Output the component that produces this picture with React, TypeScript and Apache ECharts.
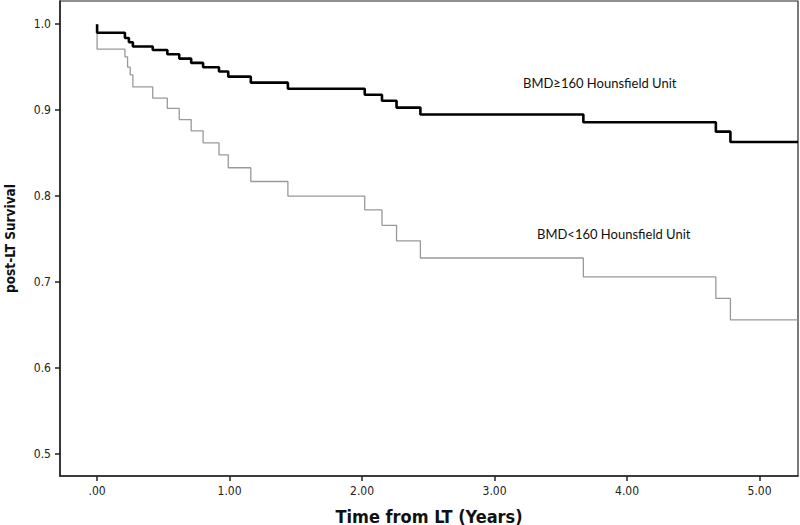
import React, { useEffect, useRef } from "react";
import * as echarts from "echarts";

// Kaplan–Meier step data
const highTimes = [0, 0, 0.21, 0.24, 0.27, 0.42, 0.53, 0.62, 0.71, 0.8, 0.92, 0.99, 1.16, 1.44, 2.02, 2.15, 2.26, 2.44, 3.67, 4.67, 4.78, 5.29];
const highSurvival = [1.0, 0.99, 0.984, 0.979, 0.974, 0.97, 0.965, 0.96, 0.955, 0.95, 0.945, 0.939, 0.932, 0.925, 0.918, 0.911, 0.903, 0.895, 0.886, 0.875, 0.863, 0.863];

const lowTimes = [0, 0, 0.21, 0.23, 0.25, 0.27, 0.42, 0.53, 0.62, 0.71, 0.8, 0.92, 0.99, 1.16, 1.44, 2.02, 2.15, 2.26, 2.44, 3.67, 4.67, 4.78, 5.29];
const lowSurvival = [1.0, 0.971, 0.962, 0.95, 0.941, 0.927, 0.914, 0.902, 0.889, 0.876, 0.862, 0.848, 0.833, 0.817, 0.8, 0.784, 0.766, 0.748, 0.728, 0.706, 0.681, 0.656, 0.656];

const xTicks = [0, 1, 2, 3, 4, 5];
const yTicks = [0.5, 0.6, 0.7, 0.8, 0.9, 1.0];

const highLabel = "BMD≥160 Hounsfield Unit";
const lowLabel = "BMD<160 Hounsfield Unit";
const xTitle = "Time from LT (Years)";
const yTitle = "post-LT Survival";

const narrow = "'Liberation Sans Narrow', 'Arial Narrow', 'DejaVu Sans Condensed', sans-serif";

export default function App() {
  const ref = useRef<HTMLDivElement>(null);
  useEffect(() => {
    if (!ref.current) return;
    const chart = echarts.init(ref.current, undefined, { renderer: "svg" });
    const pair = (ts: number[], vs: number[]) => ts.map((t, i) => [t, vs[i]]);
    chart.setOption({
      animation: false,
      backgroundColor: "#fff",
      grid: {
        left: 60,
        right: 2,
        top: 1,
        bottom: 49,
        show: true,
        borderColor: "#222",
        borderWidth: 1.2,
        containLabel: false,
        outerBoundsMode: "none",
      },
      xAxis: {
        type: "value",
        min: -0.28,
        max: 5.29,
        name: xTitle,
        nameLocation: "middle",
        nameGap: 31,
        nameTextStyle: { fontFamily: narrow, fontWeight: "bold", fontSize: 18, color: "#111" },
        axisLine: { show: true, onZero: false, lineStyle: { color: "#222", width: 1.5 } },
        axisTick: { show: true, length: 5, customValues: xTicks, lineStyle: { color: "#222", width: 1.5 } },
        axisLabel: {
          customValues: xTicks,
          margin: 9,
          fontFamily: narrow,
          fontSize: 12,
          color: "#222",
          formatter: (v: number) => (v === 0 ? ".00" : v.toFixed(2)),
        },
        splitLine: { show: false },
      },
      yAxis: {
        type: "value",
        min: 0.4744,
        max: 1.027,
        name: yTitle,
        nameLocation: "middle",
        nameGap: 43,
        nameTextStyle: { fontFamily: narrow, fontWeight: "bold", fontSize: 13.5, color: "#111" },
        axisLine: { show: true, onZero: false, lineStyle: { color: "#222", width: 1.5 } },
        axisTick: { show: true, length: 5, customValues: yTicks, lineStyle: { color: "#222", width: 1.5 } },
        axisLabel: {
          customValues: yTicks,
          margin: 9,
          fontFamily: narrow,
          fontSize: 12,
          color: "#222",
          formatter: (v: number) => v.toFixed(1),
        },
        splitLine: { show: false },
      },
      series: [
        {
          name: lowLabel,
          type: "line",
          step: "end",
          data: pair(lowTimes, lowSurvival),
          showSymbol: false,
          symbol: "none",
          lineStyle: { color: "#999", width: 1.3 },
          z: 2,
        },
        {
          name: highLabel,
          type: "line",
          step: "end",
          data: pair(highTimes, highSurvival),
          showSymbol: false,
          symbol: "none",
          lineStyle: { color: "#000", width: 2.6 },
          z: 3,
        },
      ],
      graphic: [
        {
          type: "text",
          left: 523,
          top: 76,
          style: { text: highLabel, fontFamily: "Lato, 'Open Sans', sans-serif", fontSize: 13, fill: "#111" },
        },
        {
          type: "text",
          left: 537,
          top: 227,
          style: { text: lowLabel, fontFamily: "Lato, 'Open Sans', sans-serif", fontSize: 13, fill: "#111" },
        },
      ],
    });
    return () => chart.dispose();
  }, []);
  return <div ref={ref} style={{ width: 800, height: 525, position: "absolute", left: 0, top: 0 }} />;
}
